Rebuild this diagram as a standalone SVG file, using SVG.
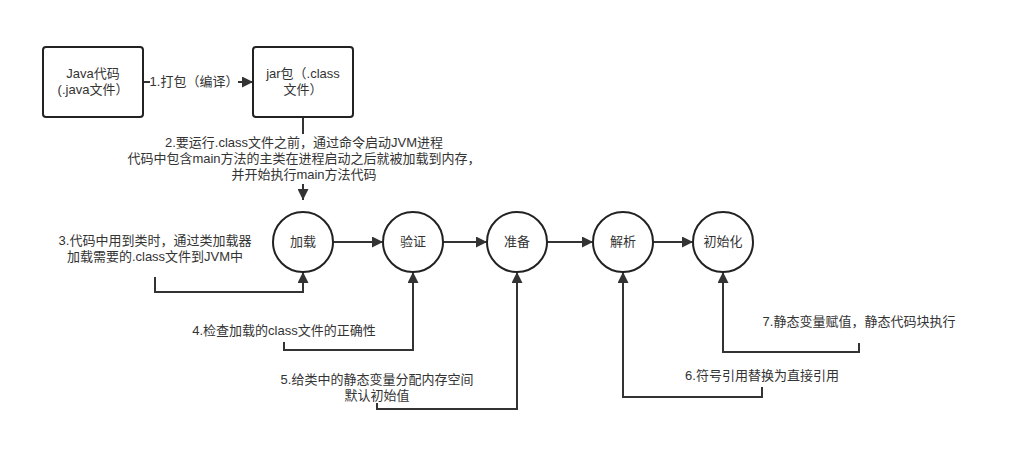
<svg xmlns="http://www.w3.org/2000/svg" width="1011" height="458" viewBox="0 0 1011 458">
<style>
.box{fill:#fff;stroke:#222;stroke-width:2}
.node{fill:#fff;stroke:#222;stroke-width:2}
.t{font-family:"Liberation Sans","Noto Sans CJK SC",sans-serif;font-size:13px;fill:#333;text-anchor:middle}
.e{fill:none;stroke:#333;stroke-width:2}
</style>
<defs>
<marker id="ah" viewBox="0 0 10 10" refX="10" refY="5" markerWidth="5.5" markerHeight="5.5" orient="auto" markerUnits="strokeWidth">
<path d="M0,0 L10,5 L0,10 Z" fill="#333"/>
</marker>
</defs>
<rect width="1011" height="458" fill="#fff"/>
<g id="connectors">
<path class="e" d="M143,82 H253" marker-end="url(#ah)"/>
<path class="e" d="M303,117 V200" marker-end="url(#ah)"/>
<path class="e" d="M333,242 H383" marker-end="url(#ah)"/>
<path class="e" d="M443,242 H487" marker-end="url(#ah)"/>
<path class="e" d="M547,242 H593" marker-end="url(#ah)"/>
<path class="e" d="M653,242 H693" marker-end="url(#ah)"/>
<path class="e" d="M155,277 V292 H303 V272" marker-end="url(#ah)"/>
<path class="e" d="M284,342 V350 H413 V272" marker-end="url(#ah)"/>
<path class="e" d="M377,403 V409 H517 V272" marker-end="url(#ah)"/>
<path class="e" d="M762,387 V397 H623 V272" marker-end="url(#ah)"/>
<path class="e" d="M859,343 V352 H723 V272" marker-end="url(#ah)"/>
<rect x="150" y="74" width="88" height="16" fill="#fff"/>
<text class="t" x="194" y="86">1.打包（编译）</text>
<rect x="124" y="134" width="360" height="50" fill="#fff"/>
<text class="t" x="304" y="147">2.要运行.class文件之前，通过命令启动JVM进程</text>
<text class="t" x="304" y="163">代码中包含main方法的主类在进程启动之后就被加载到内存，</text>
<text class="t" x="304" y="179">并开始执行main方法代码</text>
<text class="t" x="155" y="245">3.代码中用到类时，通过类加载器</text>
<text class="t" x="155" y="261">加载需要的.class文件到JVM中</text>
<text class="t" x="284" y="335">4.检查加载的class文件的正确性</text>
<text class="t" x="377" y="384">5.给类中的静态变量分配内存空间</text>
<text class="t" x="377" y="400">默认初始值</text>
<text class="t" x="762" y="380">6.符号引用替换为直接引用</text>
<text class="t" x="859" y="326">7.静态变量赋值，静态代码块执行</text>
</g>
<g id="java">
<rect class="box" x="43" y="47" width="100" height="70" rx="3"/>
<text class="t" x="93" y="78">Java代码</text>
<text class="t" x="93" y="94">(.java文件）</text>
</g>
<g id="jar">
<rect class="box" x="253" y="47" width="100" height="70" rx="3"/>
<text class="t" x="303" y="78">jar包（.class</text>
<text class="t" x="303" y="94">文件）</text>
</g>
<g id="load"><circle class="node" cx="303" cy="242" r="30"/><text class="t" x="303" y="246">加载</text></g>
<g id="verify"><circle class="node" cx="413" cy="242" r="30"/><text class="t" x="413" y="246">验证</text></g>
<g id="prepare"><circle class="node" cx="517" cy="242" r="30"/><text class="t" x="517" y="246">准备</text></g>
<g id="resolve"><circle class="node" cx="623" cy="242" r="30"/><text class="t" x="623" y="246">解析</text></g>
<g id="init"><circle class="node" cx="723" cy="242" r="30"/><text class="t" x="723" y="246">初始化</text></g>
</svg>
